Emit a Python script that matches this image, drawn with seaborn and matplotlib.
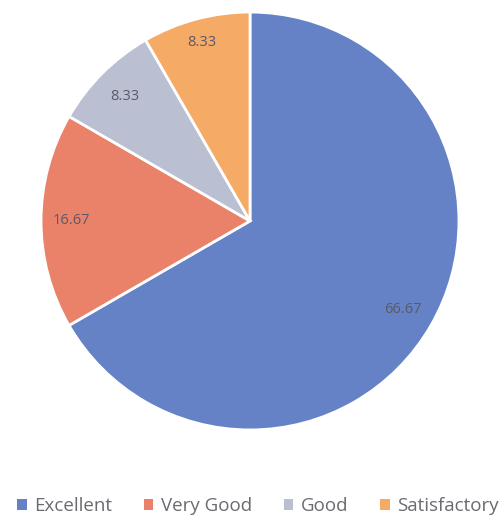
import matplotlib
matplotlib.use("Agg")
import matplotlib.pyplot as plt
import seaborn as sns
import numpy as np
from matplotlib.patches import Patch

sns.set_theme(style="white")
plt.rcParams['font.family'] = ['Open Sans', 'DejaVu Sans']

categories = ["Excellent", "Very Good", "Good", "Satisfactory"]
values = [66.67, 16.67, 8.33, 8.33]
colors = sns.color_palette(["#6582c6", "#e98269", "#babfd2", "#f5aa66"])

fig = plt.figure(figsize=(5.01, 5.24), dpi=100)
ax = fig.add_axes([40/501, (524-431)/524, 420/501, 420/524])
wedges, texts = ax.pie(values, colors=colors, startangle=90, counterclock=False,
                       radius=0.995,
                       wedgeprops=dict(edgecolor="white", linewidth=2))
dists = [0.84, 0.85, 0.84, 0.88]
for w, v, d in zip(wedges, values, dists):
    ang = np.deg2rad((w.theta1 + w.theta2) / 2)
    ax.text(d*np.cos(ang), d*np.sin(ang), f"{v:.2f}", ha="center", va="center",
            fontsize=10.5, color="#5a5a66")
ax.set_aspect("equal")
ax.set_xlim(-1.0, 1.0)
ax.set_ylim(-1.0, 1.0)

handles = [Patch(facecolor=c, edgecolor="none") for c in colors]
fig.legend(handles, categories, loc="center", bbox_to_anchor=(0.515, 1-506/524),
           ncol=4, frameon=False, fontsize=13.5, handlelength=0.5, handleheight=0.5,
           handletextpad=0.4, columnspacing=1.7, labelcolor="#6a6a70")
fig.savefig("out.png", dpi=100)
